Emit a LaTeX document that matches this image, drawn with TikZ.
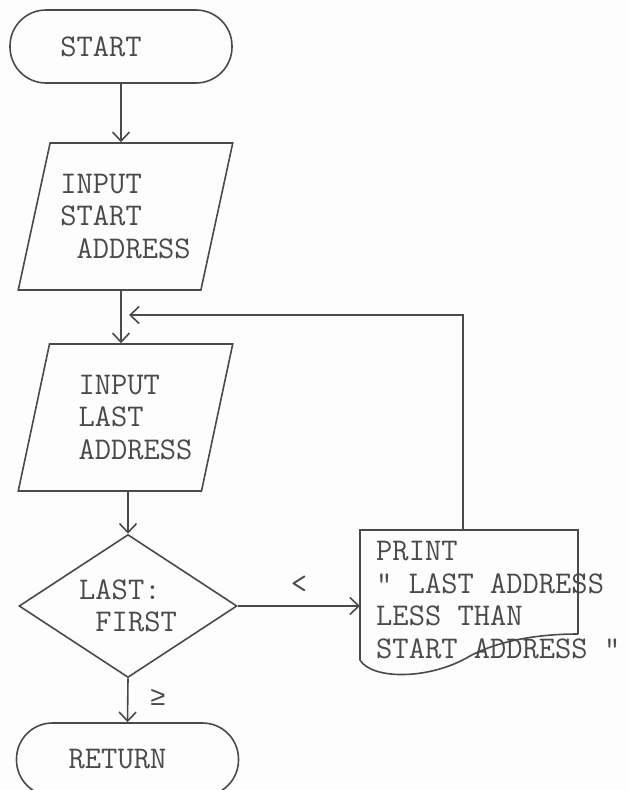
\documentclass[tikz,border=0pt]{standalone}
\usepackage{fontspec}
\newfontfamily\symfont{Liberation Mono}
\usetikzlibrary{arrows.meta,shapes.geometric}
\definecolor{ink}{HTML}{4A4A4A}
\definecolor{paper}{HTML}{FDFDFD}
\tikzset{
  flow/.style={-{Straight Barb[length=9pt,width=17pt]}, line width=1.6pt, draw=ink},
  wire/.style={line width=1.6pt, draw=ink},
  lbl/.style={text=ink, inner sep=0pt, font=\ttfamily\fontsize{31.6}{32.5}\selectfont},
  term/.style={lbl, rectangle, rounded corners=36pt, draw=ink, line width=1.6pt,
    minimum width=222pt, minimum height=73pt},
  io/.style={lbl, trapezium, trapezium left angle=72, trapezium right angle=108,
    trapezium stretches=true, draw=ink, line width=1.6pt,
    minimum width=215pt, minimum height=147pt, align=left},
  decide/.style={lbl, diamond, aspect=1.52, draw=ink, line width=1.6pt,
    minimum width=218pt, minimum height=143pt, align=left}
}

\begin{document}
\begin{tikzpicture}[x=1pt,y=-1pt]
  \fill[paper] (0,0) rectangle (630,790);
  \useasboundingbox (0,0) rectangle (630,790);
  % main column
  \node[term] (start) at (121,46.5) {START\hspace*{40pt}};
  \node[io] (in1) at (125.5,216.5) {INPUT\\START\\\phantom{A}ADDRESS};
  \node[io] (in2) at (125.5,417.5)
    {\hspace*{20pt}INPUT\\\hspace*{20pt}LAST\\\hspace*{20pt}ADDRESS};
  \node[decide] (dec) at (128,606) {LAST:\\\phantom{A}FIRST};
  \node[term] (ret) at (127.5,759.5) {RETURN\hspace*{20pt}};
  % print document, drawn by hand
  \coordinate (docin) at (360,606);
  \coordinate (doctop) at (463,530);
  \coordinate (join) at (121,315);
  \draw[wire] (578,634) -- (578,530) -- (360,530) -- (360,660)
    .. controls (372,680) and (430,680) .. (470,656)
    .. controls (500,640) and (540,634) .. (578,634);
  \node[lbl, anchor=north west, align=left] (msg) at (376,541)
    {PRINT\\" LAST ADDRESS\\LESS THAN\\START ADDRESS "};
  % branch labels
  \node[lbl] (lt) at (299,585) {<};
  \node[lbl] (ge) at (158,697) {\symfont\fontsize{27}{32}\selectfont ≥};
  % connectors
  \draw[flow] (start.south) -- (start.south |- in1.north);
  \draw[wire] (join |- in1.south) -- (join);
  \draw[flow] (join) -- (join |- in2.north);
  \draw[flow] (dec.north |- in2.south) -- (dec.north);
  \draw[flow] (dec.east) -- (docin);
  \draw[flow] (dec.south) -- (ret.north);
  \draw[flow, shorten >=8pt] (doctop) |- (join);
\end{tikzpicture}
\end{document}
